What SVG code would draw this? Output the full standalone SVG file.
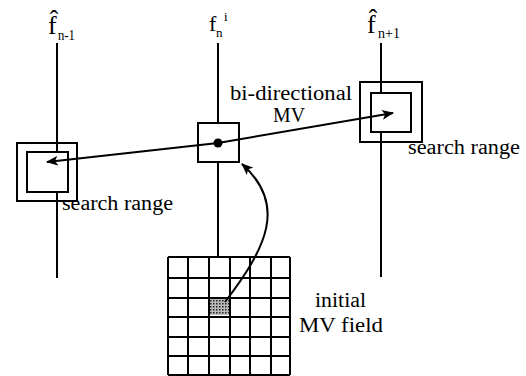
<svg xmlns="http://www.w3.org/2000/svg" width="526" height="376" viewBox="0 0 526 376">
<defs>
<style>
.ln{stroke:#000;stroke-width:2;fill:none}
.bx{stroke:#000;stroke-width:2;fill:#fff}
.ob{stroke:#000;stroke-width:2;fill:none}
.t{font-family:"Liberation Serif","Times New Roman",serif;fill:#000;font-size:20px}
.lab{font-family:"Liberation Serif","Times New Roman",serif;fill:#000}
</style>
<marker id="ah" viewBox="0 0 12 10" refX="11" refY="5" markerWidth="12" markerHeight="10" markerUnits="userSpaceOnUse" orient="auto">
<path d="M0,0 L12,5 L0,10 L3,5 Z" fill="#000"/>
</marker>
<pattern id="dots" width="3" height="3" patternUnits="userSpaceOnUse">
<rect width="3" height="3" fill="#bbb"/>
<rect width="1.5" height="1.5" fill="#222"/>
</pattern>
</defs>
<rect width="526" height="376" fill="#fff"/>

<g id="frames">
<line class="ln" x1="57" y1="43" x2="57" y2="278"/>
<line class="ln" x1="218" y1="43" x2="218" y2="257"/>
<line class="ln" x1="381" y1="43" x2="381" y2="277"/>
</g>

<g id="label-prev">
<text class="lab" x="48" y="34" font-size="26">f&#x302;</text>
<text class="lab" x="58" y="40" font-size="14" textLength="17" lengthAdjust="spacingAndGlyphs">n-1</text>
</g>
<g id="label-cur">
<text class="lab" x="209" y="31" font-size="22">f</text>
<text class="lab" x="224" y="21" font-size="13">i</text>
<text class="lab" x="216" y="37" font-size="13">n</text>
</g>
<g id="label-next">
<text class="lab" x="367" y="33" font-size="26">f&#x302;</text>
<text class="lab" x="378" y="38" font-size="14" textLength="22" lengthAdjust="spacingAndGlyphs">n+1</text>
</g>

<g id="search-prev">
<rect class="ob" x="17" y="143" width="60" height="58"/>
<rect class="bx" x="27" y="152" width="41" height="40"/>
<text class="t" x="62" y="210" textLength="111" lengthAdjust="spacingAndGlyphs">search range</text>
</g>

<g id="block-cur">
<rect class="bx" x="198" y="123" width="41" height="39"/>
</g>

<g id="search-next">
<rect class="ob" x="360" y="82" width="62" height="60"/>
<rect class="bx" x="371" y="93" width="40" height="39"/>
<text class="t" x="408" y="154" textLength="112" lengthAdjust="spacingAndGlyphs">search range</text>
</g>

<g id="mv-field">
<rect x="168" y="257" width="122" height="118" fill="#fff"/>
<rect x="210" y="298" width="19" height="17" fill="url(#dots)"/>
<path class="ln" d="M168,257V375M188,257V375M209,257V375M230,257V375M250,257V375M271,257V375M290,257V375M168,257H290M168,278H290M168,298H290M168,317H290M168,337H290M168,356H290M168,375H290"/>
<text class="t" x="315" y="307" textLength="51" lengthAdjust="spacingAndGlyphs">initial</text>
<text class="t" x="299" y="332" textLength="84" lengthAdjust="spacingAndGlyphs">MV field</text>
</g>

<g id="bidir-label">
<text class="t" x="230" y="100" textLength="122" lengthAdjust="spacingAndGlyphs">bi-directional</text>
<text class="t" x="273" y="122" textLength="32" lengthAdjust="spacingAndGlyphs">MV</text>
</g>

<g id="connectors">
<line class="ln" x1="218" y1="143" x2="393" y2="113" marker-end="url(#ah)"/>
<line class="ln" x1="218" y1="143" x2="47" y2="162" marker-end="url(#ah)"/>
<path class="ln" d="M225,302 C266,248 288,205 242,164" marker-end="url(#ah)"/>
<circle cx="218" cy="143" r="4.5" fill="#000"/>
</g>
</svg>
